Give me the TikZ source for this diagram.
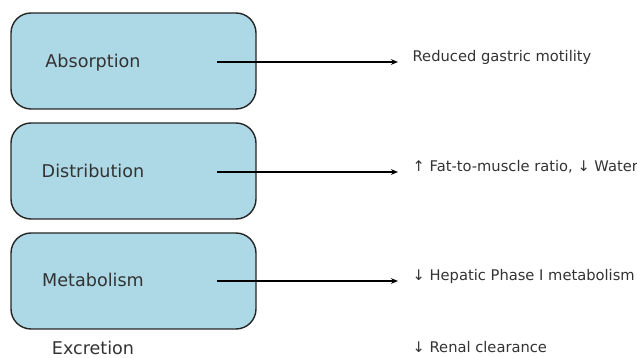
\documentclass[tikz,border=0pt]{standalone}
\usepackage{fontspec}
\setmainfont{DejaVu Sans}
\usetikzlibrary{arrows.meta}
\definecolor{boxblue}{RGB}{173,216,230}
\definecolor{txtgray}{RGB}{51,51,51}

\begin{document}
\begin{tikzpicture}[
    font=\fontsize{10.45}{12}\selectfont,
    stage/.style={draw=black!85, line width=1pt, rounded corners=0.5cm, fill=boxblue, minimum width=6.125cm, minimum height=2.4cm, inner sep=0pt},
    lbl/.style={text=txtgray, font=\fontsize{12.5}{14}\selectfont, anchor=base, inner sep=0pt},
    eff/.style={text=txtgray, anchor=base west, inner xsep=0.36cm, inner ysep=0pt},
    >={Stealth[length=5pt, width=4pt]}]

    \useasboundingbox (0,0) rectangle (15.925,8.95);

    % faze farmakokinetiky
    \node[stage] (abs) at (3.3375,7.425) {};
    \node[stage] (dist) at (3.3375,4.675) {};
    \node[stage] (met) at (3.3375,1.925) {};
    \node[lbl] (absl) at (2.325,7.25) {Absorption};
    \node[lbl] (distl) at (2.325,4.5) {Distribution};
    \node[lbl] (metl) at (2.325,1.775) {Metabolism};
    \node[lbl] (excl) at (2.325,0.08) {Excretion};

    % zmeny ve stari
    \node[eff] (absz) at (9.95,7.4) {Reduced gastric motility};
    \node[eff] (distz) at (9.95,4.65) {↑ Fat-to-muscle ratio, ↓ Water};
    \node[eff] (metz) at (9.95,1.925) {↓ Hepatic Phase I metabolism};
    \node[eff] (excz) at (9.95,0.125) {↓ Renal clearance};

    % sipky
    \coordinate (absv) at (5.425,7.4);
    \coordinate (distv) at (5.425,4.65);
    \coordinate (metv) at (5.425,1.925);
    \draw[->, line width=0.8pt] (absv) -- (absz.base west);
    \draw[->, line width=0.8pt] (distv) -- (distz.base west);
    \draw[->, line width=0.8pt] (metv) -- (metz.base west);
\end{tikzpicture}
\end{document}
